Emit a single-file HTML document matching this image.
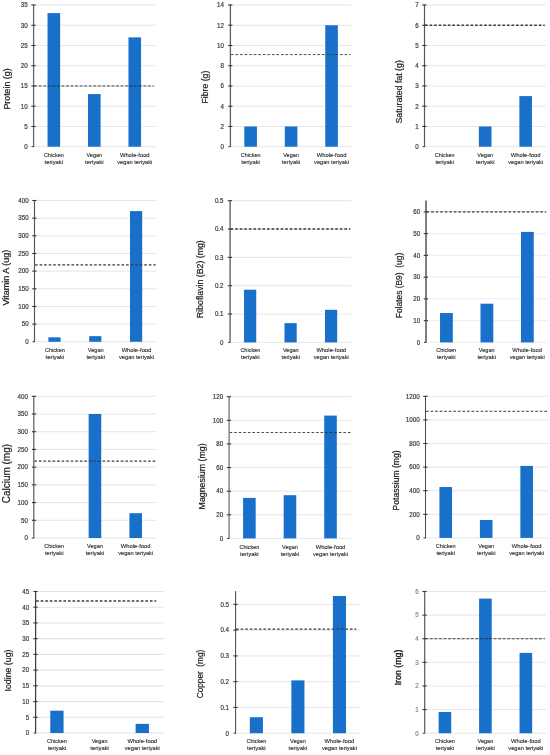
<!DOCTYPE html>
<html><head><meta charset="utf-8"><title>Charts</title>
<style>html,body{margin:0;padding:0;background:#fff}svg{display:block;will-change:transform}text{font-family:"Liberation Sans",sans-serif}</style></head><body>
<svg width="550" height="755" viewBox="0 0 550 755">
<rect width="550" height="755" fill="#fff"/>
<g>
<line x1="33.60" x2="155.50" y1="146.70" y2="146.70" stroke="#dedede" stroke-width="0.75"/>
<line x1="33.60" x2="155.50" y1="126.46" y2="126.46" stroke="#dedede" stroke-width="0.75"/>
<line x1="33.60" x2="155.50" y1="106.21" y2="106.21" stroke="#dedede" stroke-width="0.75"/>
<line x1="33.60" x2="155.50" y1="85.97" y2="85.97" stroke="#dedede" stroke-width="0.75"/>
<line x1="33.60" x2="155.50" y1="65.73" y2="65.73" stroke="#dedede" stroke-width="0.75"/>
<line x1="33.60" x2="155.50" y1="45.49" y2="45.49" stroke="#dedede" stroke-width="0.75"/>
<line x1="33.60" x2="155.50" y1="25.24" y2="25.24" stroke="#dedede" stroke-width="0.75"/>
<line x1="33.60" x2="155.50" y1="5.00" y2="5.00" stroke="#dedede" stroke-width="0.75"/>
<rect x="47.53" y="13.10" width="12.60" height="133.60" fill="#1970ca"/>
<rect x="88.00" y="94.07" width="12.60" height="52.63" fill="#1970ca"/>
<rect x="128.47" y="37.39" width="12.60" height="109.31" fill="#1970ca"/>
<line x1="34.10" x2="153.80" y1="85.97" y2="85.97" stroke="#262626" stroke-width="0.85" stroke-dasharray="3 1.55"/>
<line x1="33.60" x2="33.60" y1="4.60" y2="147.10" stroke="#666" stroke-width="1.3"/>
<line x1="31.60" x2="33.60" y1="146.70" y2="146.70" stroke="#3a3a3a" stroke-width="1.0"/>
<text transform="translate(27.70,149.00) scale(1,1.12)" stroke="#3a3a3a" stroke-width="0.18" font-size="6.2" text-anchor="end" fill="#3a3a3a">0</text>
<line x1="31.30" x2="35.60" y1="126.46" y2="126.46" stroke="#383838" stroke-width="1.1"/>
<text transform="translate(27.70,128.76) scale(1,1.12)" stroke="#3a3a3a" stroke-width="0.18" font-size="6.2" text-anchor="end" fill="#3a3a3a">5</text>
<line x1="31.30" x2="35.60" y1="106.21" y2="106.21" stroke="#383838" stroke-width="1.1"/>
<text transform="translate(27.70,108.51) scale(1,1.12)" stroke="#3a3a3a" stroke-width="0.18" font-size="6.2" text-anchor="end" fill="#3a3a3a">10</text>
<line x1="31.30" x2="35.60" y1="85.97" y2="85.97" stroke="#383838" stroke-width="1.1"/>
<text transform="translate(27.70,88.27) scale(1,1.12)" stroke="#3a3a3a" stroke-width="0.18" font-size="6.2" text-anchor="end" fill="#3a3a3a">15</text>
<line x1="31.30" x2="35.60" y1="65.73" y2="65.73" stroke="#383838" stroke-width="1.1"/>
<text transform="translate(27.70,68.03) scale(1,1.12)" stroke="#3a3a3a" stroke-width="0.18" font-size="6.2" text-anchor="end" fill="#3a3a3a">20</text>
<line x1="31.30" x2="35.60" y1="45.49" y2="45.49" stroke="#383838" stroke-width="1.1"/>
<text transform="translate(27.70,47.79) scale(1,1.12)" stroke="#3a3a3a" stroke-width="0.18" font-size="6.2" text-anchor="end" fill="#3a3a3a">25</text>
<line x1="31.30" x2="35.60" y1="25.24" y2="25.24" stroke="#383838" stroke-width="1.1"/>
<text transform="translate(27.70,27.54) scale(1,1.12)" stroke="#3a3a3a" stroke-width="0.18" font-size="6.2" text-anchor="end" fill="#3a3a3a">30</text>
<line x1="31.30" x2="35.60" y1="5.00" y2="5.00" stroke="#383838" stroke-width="1.1"/>
<text transform="translate(27.70,7.30) scale(1,1.12)" stroke="#3a3a3a" stroke-width="0.18" font-size="6.2" text-anchor="end" fill="#3a3a3a">35</text>
<text x="53.83" y="156.65" font-size="6.05" text-anchor="middle" textLength="19.90" lengthAdjust="spacingAndGlyphs" fill="#303030" stroke="#303030" stroke-width="0.14">Chicken</text>
<text x="53.83" y="163.85" font-size="6.05" text-anchor="middle" textLength="18.60" lengthAdjust="spacingAndGlyphs" fill="#303030" stroke="#303030" stroke-width="0.14">teriyaki</text>
<text x="94.30" y="156.65" font-size="6.05" text-anchor="middle" textLength="15.80" lengthAdjust="spacingAndGlyphs" fill="#303030" stroke="#303030" stroke-width="0.14">Vegan</text>
<text x="94.30" y="163.85" font-size="6.05" text-anchor="middle" textLength="18.60" lengthAdjust="spacingAndGlyphs" fill="#303030" stroke="#303030" stroke-width="0.14">teriyaki</text>
<text x="134.77" y="156.65" font-size="6.05" text-anchor="middle" textLength="29.70" lengthAdjust="spacingAndGlyphs" fill="#303030" stroke="#303030" stroke-width="0.14">Whole-food</text>
<text x="134.77" y="163.85" font-size="6.05" text-anchor="middle" textLength="35.00" lengthAdjust="spacingAndGlyphs" fill="#303030" stroke="#303030" stroke-width="0.14">vegan teriyaki</text>
<text transform="translate(9.80,89.00) rotate(-90)" font-size="8.6" text-anchor="middle" textLength="41.2" lengthAdjust="spacingAndGlyphs" fill="#1a1a1a" stroke="#1a1a1a" stroke-width="0.2" xml:space="preserve">Protein (g)</text>
</g>
<g>
<line x1="230.40" x2="351.80" y1="146.70" y2="146.70" stroke="#dedede" stroke-width="0.75"/>
<line x1="230.40" x2="351.80" y1="126.46" y2="126.46" stroke="#dedede" stroke-width="0.75"/>
<line x1="230.40" x2="351.80" y1="106.21" y2="106.21" stroke="#dedede" stroke-width="0.75"/>
<line x1="230.40" x2="351.80" y1="85.97" y2="85.97" stroke="#dedede" stroke-width="0.75"/>
<line x1="230.40" x2="351.80" y1="65.73" y2="65.73" stroke="#dedede" stroke-width="0.75"/>
<line x1="230.40" x2="351.80" y1="45.49" y2="45.49" stroke="#dedede" stroke-width="0.75"/>
<line x1="230.40" x2="351.80" y1="25.24" y2="25.24" stroke="#dedede" stroke-width="0.75"/>
<line x1="230.40" x2="351.80" y1="5.00" y2="5.00" stroke="#dedede" stroke-width="0.75"/>
<rect x="244.33" y="126.46" width="12.60" height="20.24" fill="#1970ca"/>
<rect x="284.80" y="126.46" width="12.60" height="20.24" fill="#1970ca"/>
<rect x="325.27" y="25.24" width="12.60" height="121.46" fill="#1970ca"/>
<line x1="230.90" x2="350.60" y1="54.59" y2="54.59" stroke="#3c3c3c" stroke-width="0.9" stroke-dasharray="2.7 1.85"/>
<line x1="230.40" x2="230.40" y1="4.60" y2="147.10" stroke="#606060" stroke-width="1.3"/>
<line x1="228.40" x2="230.40" y1="146.70" y2="146.70" stroke="#3a3a3a" stroke-width="1.0"/>
<text transform="translate(224.00,149.00) scale(1,1.12)" stroke="#3a3a3a" stroke-width="0.18" font-size="6.2" text-anchor="end" fill="#3a3a3a">0</text>
<line x1="228.10" x2="232.40" y1="126.46" y2="126.46" stroke="#383838" stroke-width="1.1"/>
<text transform="translate(224.00,128.76) scale(1,1.12)" stroke="#3a3a3a" stroke-width="0.18" font-size="6.2" text-anchor="end" fill="#3a3a3a">2</text>
<line x1="228.10" x2="232.40" y1="106.21" y2="106.21" stroke="#383838" stroke-width="1.1"/>
<text transform="translate(224.00,108.51) scale(1,1.12)" stroke="#3a3a3a" stroke-width="0.18" font-size="6.2" text-anchor="end" fill="#3a3a3a">4</text>
<line x1="228.10" x2="232.40" y1="85.97" y2="85.97" stroke="#383838" stroke-width="1.1"/>
<text transform="translate(224.00,88.27) scale(1,1.12)" stroke="#3a3a3a" stroke-width="0.18" font-size="6.2" text-anchor="end" fill="#3a3a3a">6</text>
<line x1="228.10" x2="232.40" y1="65.73" y2="65.73" stroke="#383838" stroke-width="1.1"/>
<text transform="translate(224.00,68.03) scale(1,1.12)" stroke="#3a3a3a" stroke-width="0.18" font-size="6.2" text-anchor="end" fill="#3a3a3a">8</text>
<line x1="228.10" x2="232.40" y1="45.49" y2="45.49" stroke="#383838" stroke-width="1.1"/>
<text transform="translate(224.00,47.79) scale(1,1.12)" stroke="#3a3a3a" stroke-width="0.18" font-size="6.2" text-anchor="end" fill="#3a3a3a">10</text>
<line x1="228.10" x2="232.40" y1="25.24" y2="25.24" stroke="#383838" stroke-width="1.1"/>
<text transform="translate(224.00,27.54) scale(1,1.12)" stroke="#3a3a3a" stroke-width="0.18" font-size="6.2" text-anchor="end" fill="#3a3a3a">12</text>
<line x1="228.10" x2="232.40" y1="5.00" y2="5.00" stroke="#383838" stroke-width="1.1"/>
<text transform="translate(224.00,7.30) scale(1,1.12)" stroke="#3a3a3a" stroke-width="0.18" font-size="6.2" text-anchor="end" fill="#3a3a3a">14</text>
<text x="250.63" y="156.65" font-size="6.05" text-anchor="middle" textLength="19.90" lengthAdjust="spacingAndGlyphs" fill="#303030" stroke="#303030" stroke-width="0.14">Chicken</text>
<text x="250.63" y="163.85" font-size="6.05" text-anchor="middle" textLength="18.60" lengthAdjust="spacingAndGlyphs" fill="#303030" stroke="#303030" stroke-width="0.14">teriyaki</text>
<text x="291.10" y="156.65" font-size="6.05" text-anchor="middle" textLength="15.80" lengthAdjust="spacingAndGlyphs" fill="#303030" stroke="#303030" stroke-width="0.14">Vegan</text>
<text x="291.10" y="163.85" font-size="6.05" text-anchor="middle" textLength="18.60" lengthAdjust="spacingAndGlyphs" fill="#303030" stroke="#303030" stroke-width="0.14">teriyaki</text>
<text x="331.57" y="156.65" font-size="6.05" text-anchor="middle" textLength="29.70" lengthAdjust="spacingAndGlyphs" fill="#303030" stroke="#303030" stroke-width="0.14">Whole-food</text>
<text x="331.57" y="163.85" font-size="6.05" text-anchor="middle" textLength="35.00" lengthAdjust="spacingAndGlyphs" fill="#303030" stroke="#303030" stroke-width="0.14">vegan teriyaki</text>
<text transform="translate(207.50,87.10) rotate(-90)" font-size="8.6" text-anchor="middle" textLength="33.0" lengthAdjust="spacingAndGlyphs" fill="#1a1a1a" stroke="#1a1a1a" stroke-width="0.2" xml:space="preserve">Fibre (g)</text>
</g>
<g>
<line x1="424.50" x2="545.90" y1="146.70" y2="146.70" stroke="#dedede" stroke-width="0.75"/>
<line x1="424.50" x2="545.90" y1="126.46" y2="126.46" stroke="#dedede" stroke-width="0.75"/>
<line x1="424.50" x2="545.90" y1="106.21" y2="106.21" stroke="#dedede" stroke-width="0.75"/>
<line x1="424.50" x2="545.90" y1="85.97" y2="85.97" stroke="#dedede" stroke-width="0.75"/>
<line x1="424.50" x2="545.90" y1="65.73" y2="65.73" stroke="#dedede" stroke-width="0.75"/>
<line x1="424.50" x2="545.90" y1="45.49" y2="45.49" stroke="#dedede" stroke-width="0.75"/>
<line x1="424.50" x2="545.90" y1="25.24" y2="25.24" stroke="#dedede" stroke-width="0.75"/>
<line x1="424.50" x2="545.90" y1="5.00" y2="5.00" stroke="#dedede" stroke-width="0.75"/>
<rect x="478.90" y="126.46" width="12.60" height="20.24" fill="#1970ca"/>
<rect x="519.37" y="96.09" width="12.60" height="50.61" fill="#1970ca"/>
<line x1="425.00" x2="544.70" y1="25.24" y2="25.24" stroke="#3c3c3c" stroke-width="1.4" stroke-dasharray="2.7 1.85"/>
<line x1="424.50" x2="424.50" y1="4.60" y2="147.10" stroke="#595959" stroke-width="1.2"/>
<line x1="422.50" x2="424.50" y1="146.70" y2="146.70" stroke="#3a3a3a" stroke-width="1.0"/>
<text transform="translate(418.60,149.00) scale(1,1.12)" stroke="#3a3a3a" stroke-width="0.18" font-size="6.2" text-anchor="end" fill="#3a3a3a">0</text>
<line x1="422.20" x2="426.50" y1="126.46" y2="126.46" stroke="#383838" stroke-width="1.1"/>
<text transform="translate(418.60,128.76) scale(1,1.12)" stroke="#3a3a3a" stroke-width="0.18" font-size="6.2" text-anchor="end" fill="#3a3a3a">1</text>
<line x1="422.20" x2="426.50" y1="106.21" y2="106.21" stroke="#383838" stroke-width="1.1"/>
<text transform="translate(418.60,108.51) scale(1,1.12)" stroke="#3a3a3a" stroke-width="0.18" font-size="6.2" text-anchor="end" fill="#3a3a3a">2</text>
<line x1="422.20" x2="426.50" y1="85.97" y2="85.97" stroke="#383838" stroke-width="1.1"/>
<text transform="translate(418.60,88.27) scale(1,1.12)" stroke="#3a3a3a" stroke-width="0.18" font-size="6.2" text-anchor="end" fill="#3a3a3a">3</text>
<line x1="422.20" x2="426.50" y1="65.73" y2="65.73" stroke="#383838" stroke-width="1.1"/>
<text transform="translate(418.60,68.03) scale(1,1.12)" stroke="#3a3a3a" stroke-width="0.18" font-size="6.2" text-anchor="end" fill="#3a3a3a">4</text>
<line x1="422.20" x2="426.50" y1="45.49" y2="45.49" stroke="#383838" stroke-width="1.1"/>
<text transform="translate(418.60,47.79) scale(1,1.12)" stroke="#3a3a3a" stroke-width="0.18" font-size="6.2" text-anchor="end" fill="#3a3a3a">5</text>
<line x1="422.20" x2="426.50" y1="25.24" y2="25.24" stroke="#383838" stroke-width="1.1"/>
<text transform="translate(418.60,27.54) scale(1,1.12)" stroke="#3a3a3a" stroke-width="0.18" font-size="6.2" text-anchor="end" fill="#3a3a3a">6</text>
<line x1="422.20" x2="426.50" y1="5.00" y2="5.00" stroke="#383838" stroke-width="1.1"/>
<text transform="translate(418.60,7.30) scale(1,1.12)" stroke="#3a3a3a" stroke-width="0.18" font-size="6.2" text-anchor="end" fill="#3a3a3a">7</text>
<text x="444.73" y="156.65" font-size="6.05" text-anchor="middle" textLength="19.90" lengthAdjust="spacingAndGlyphs" fill="#303030" stroke="#303030" stroke-width="0.14">Chicken</text>
<text x="444.73" y="163.85" font-size="6.05" text-anchor="middle" textLength="18.60" lengthAdjust="spacingAndGlyphs" fill="#303030" stroke="#303030" stroke-width="0.14">teriyaki</text>
<text x="485.20" y="156.65" font-size="6.05" text-anchor="middle" textLength="15.80" lengthAdjust="spacingAndGlyphs" fill="#303030" stroke="#303030" stroke-width="0.14">Vegan</text>
<text x="485.20" y="163.85" font-size="6.05" text-anchor="middle" textLength="18.60" lengthAdjust="spacingAndGlyphs" fill="#303030" stroke="#303030" stroke-width="0.14">teriyaki</text>
<text x="525.67" y="156.65" font-size="6.05" text-anchor="middle" textLength="29.70" lengthAdjust="spacingAndGlyphs" fill="#303030" stroke="#303030" stroke-width="0.14">Whole-food</text>
<text x="525.67" y="163.85" font-size="6.05" text-anchor="middle" textLength="35.00" lengthAdjust="spacingAndGlyphs" fill="#303030" stroke="#303030" stroke-width="0.14">vegan teriyaki</text>
<text transform="translate(402.00,91.90) rotate(-90)" font-size="8.6" text-anchor="middle" textLength="63.4" lengthAdjust="spacingAndGlyphs" fill="#1a1a1a" stroke="#1a1a1a" stroke-width="0.2" xml:space="preserve">Saturated fat (g)</text>
</g>
<g>
<line x1="34.50" x2="156.90" y1="341.80" y2="341.80" stroke="#dedede" stroke-width="0.75"/>
<line x1="34.50" x2="156.90" y1="324.14" y2="324.14" stroke="#dedede" stroke-width="0.75"/>
<line x1="34.50" x2="156.90" y1="306.48" y2="306.48" stroke="#dedede" stroke-width="0.75"/>
<line x1="34.50" x2="156.90" y1="288.81" y2="288.81" stroke="#dedede" stroke-width="0.75"/>
<line x1="34.50" x2="156.90" y1="271.15" y2="271.15" stroke="#dedede" stroke-width="0.75"/>
<line x1="34.50" x2="156.90" y1="253.49" y2="253.49" stroke="#dedede" stroke-width="0.75"/>
<line x1="34.50" x2="156.90" y1="235.82" y2="235.82" stroke="#dedede" stroke-width="0.75"/>
<line x1="34.50" x2="156.90" y1="218.16" y2="218.16" stroke="#dedede" stroke-width="0.75"/>
<line x1="34.50" x2="156.90" y1="200.50" y2="200.50" stroke="#dedede" stroke-width="0.75"/>
<rect x="48.40" y="337.31" width="12.20" height="4.49" fill="#1970ca"/>
<rect x="89.20" y="336.15" width="12.20" height="5.65" fill="#1970ca"/>
<rect x="130.00" y="211.10" width="12.20" height="130.70" fill="#1970ca"/>
<line x1="35.00" x2="155.70" y1="264.93" y2="264.93" stroke="#3c3c3c" stroke-width="1.3" stroke-dasharray="2.7 1.85"/>
<line x1="34.50" x2="34.50" y1="200.10" y2="342.20" stroke="#595959" stroke-width="1.2"/>
<line x1="32.50" x2="34.50" y1="341.80" y2="341.80" stroke="#3a3a3a" stroke-width="1.0"/>
<text transform="translate(28.60,344.10) scale(1,1.12)" stroke="#3a3a3a" stroke-width="0.18" font-size="6.2" text-anchor="end" fill="#3a3a3a">0</text>
<line x1="32.20" x2="36.50" y1="324.14" y2="324.14" stroke="#383838" stroke-width="1.1"/>
<text transform="translate(28.60,326.44) scale(1,1.12)" stroke="#3a3a3a" stroke-width="0.18" font-size="6.2" text-anchor="end" fill="#3a3a3a">50</text>
<line x1="32.20" x2="36.50" y1="306.48" y2="306.48" stroke="#383838" stroke-width="1.1"/>
<text transform="translate(28.60,308.78) scale(1,1.12)" stroke="#3a3a3a" stroke-width="0.18" font-size="6.2" text-anchor="end" fill="#3a3a3a">100</text>
<line x1="32.20" x2="36.50" y1="288.81" y2="288.81" stroke="#383838" stroke-width="1.1"/>
<text transform="translate(28.60,291.11) scale(1,1.12)" stroke="#3a3a3a" stroke-width="0.18" font-size="6.2" text-anchor="end" fill="#3a3a3a">150</text>
<line x1="32.20" x2="36.50" y1="271.15" y2="271.15" stroke="#383838" stroke-width="1.1"/>
<text transform="translate(28.60,273.45) scale(1,1.12)" stroke="#3a3a3a" stroke-width="0.18" font-size="6.2" text-anchor="end" fill="#3a3a3a">200</text>
<line x1="32.20" x2="36.50" y1="253.49" y2="253.49" stroke="#383838" stroke-width="1.1"/>
<text transform="translate(28.60,255.79) scale(1,1.12)" stroke="#3a3a3a" stroke-width="0.18" font-size="6.2" text-anchor="end" fill="#3a3a3a">250</text>
<line x1="32.20" x2="36.50" y1="235.82" y2="235.82" stroke="#383838" stroke-width="1.1"/>
<text transform="translate(28.60,238.12) scale(1,1.12)" stroke="#3a3a3a" stroke-width="0.18" font-size="6.2" text-anchor="end" fill="#3a3a3a">300</text>
<line x1="32.20" x2="36.50" y1="218.16" y2="218.16" stroke="#383838" stroke-width="1.1"/>
<text transform="translate(28.60,220.46) scale(1,1.12)" stroke="#3a3a3a" stroke-width="0.18" font-size="6.2" text-anchor="end" fill="#3a3a3a">350</text>
<line x1="32.20" x2="36.50" y1="200.50" y2="200.50" stroke="#383838" stroke-width="1.1"/>
<text transform="translate(28.60,202.80) scale(1,1.12)" stroke="#3a3a3a" stroke-width="0.18" font-size="6.2" text-anchor="end" fill="#3a3a3a">400</text>
<text x="54.90" y="352.15" font-size="6.05" text-anchor="middle" textLength="19.90" lengthAdjust="spacingAndGlyphs" fill="#303030" stroke="#303030" stroke-width="0.14">Chicken</text>
<text x="54.90" y="359.35" font-size="6.05" text-anchor="middle" textLength="18.60" lengthAdjust="spacingAndGlyphs" fill="#303030" stroke="#303030" stroke-width="0.14">teriyaki</text>
<text x="95.70" y="352.15" font-size="6.05" text-anchor="middle" textLength="15.80" lengthAdjust="spacingAndGlyphs" fill="#303030" stroke="#303030" stroke-width="0.14">Vegan</text>
<text x="95.70" y="359.35" font-size="6.05" text-anchor="middle" textLength="18.60" lengthAdjust="spacingAndGlyphs" fill="#303030" stroke="#303030" stroke-width="0.14">teriyaki</text>
<text x="136.50" y="352.15" font-size="6.05" text-anchor="middle" textLength="29.70" lengthAdjust="spacingAndGlyphs" fill="#303030" stroke="#303030" stroke-width="0.14">Whole-food</text>
<text x="136.50" y="359.35" font-size="6.05" text-anchor="middle" textLength="35.00" lengthAdjust="spacingAndGlyphs" fill="#303030" stroke="#303030" stroke-width="0.14">vegan teriyaki</text>
<text transform="translate(8.60,277.60) rotate(-90)" font-size="8.6" text-anchor="middle" textLength="55.8" lengthAdjust="spacingAndGlyphs" fill="#1a1a1a" stroke="#1a1a1a" stroke-width="0.2" xml:space="preserve">Vitamin A (ug)</text>
</g>
<g>
<line x1="230.10" x2="351.50" y1="342.40" y2="342.40" stroke="#dedede" stroke-width="0.75"/>
<line x1="230.10" x2="351.50" y1="314.06" y2="314.06" stroke="#dedede" stroke-width="0.75"/>
<line x1="230.10" x2="351.50" y1="285.72" y2="285.72" stroke="#dedede" stroke-width="0.75"/>
<line x1="230.10" x2="351.50" y1="257.38" y2="257.38" stroke="#dedede" stroke-width="0.75"/>
<line x1="230.10" x2="351.50" y1="229.04" y2="229.04" stroke="#dedede" stroke-width="0.75"/>
<line x1="230.10" x2="351.50" y1="200.70" y2="200.70" stroke="#dedede" stroke-width="0.75"/>
<rect x="244.03" y="289.69" width="12.20" height="52.71" fill="#1970ca"/>
<rect x="284.50" y="323.13" width="12.20" height="19.27" fill="#1970ca"/>
<rect x="324.97" y="309.81" width="12.20" height="32.59" fill="#1970ca"/>
<line x1="230.60" x2="350.30" y1="229.04" y2="229.04" stroke="#3c3c3c" stroke-width="1.4" stroke-dasharray="2.7 1.85"/>
<line x1="230.10" x2="230.10" y1="200.30" y2="342.80" stroke="#707070" stroke-width="1.5"/>
<line x1="228.10" x2="230.10" y1="342.40" y2="342.40" stroke="#3a3a3a" stroke-width="1.0"/>
<text transform="translate(223.50,344.70) scale(1,1.12)" stroke="#3a3a3a" stroke-width="0.18" font-size="6.2" text-anchor="end" fill="#3a3a3a">0</text>
<line x1="227.80" x2="232.10" y1="314.06" y2="314.06" stroke="#383838" stroke-width="1.1"/>
<text transform="translate(223.50,316.36) scale(1,1.12)" stroke="#3a3a3a" stroke-width="0.18" font-size="6.2" text-anchor="end" fill="#3a3a3a">0.1</text>
<line x1="227.80" x2="232.10" y1="285.72" y2="285.72" stroke="#383838" stroke-width="1.1"/>
<text transform="translate(223.50,288.02) scale(1,1.12)" stroke="#3a3a3a" stroke-width="0.18" font-size="6.2" text-anchor="end" fill="#3a3a3a">0.2</text>
<line x1="227.80" x2="232.10" y1="257.38" y2="257.38" stroke="#383838" stroke-width="1.1"/>
<text transform="translate(223.50,259.68) scale(1,1.12)" stroke="#3a3a3a" stroke-width="0.18" font-size="6.2" text-anchor="end" fill="#3a3a3a">0.3</text>
<line x1="227.80" x2="232.10" y1="229.04" y2="229.04" stroke="#383838" stroke-width="1.1"/>
<text transform="translate(223.50,231.34) scale(1,1.12)" stroke="#3a3a3a" stroke-width="0.18" font-size="6.2" text-anchor="end" fill="#3a3a3a">0.4</text>
<line x1="227.80" x2="232.10" y1="200.70" y2="200.70" stroke="#383838" stroke-width="1.1"/>
<text transform="translate(223.50,203.00) scale(1,1.12)" stroke="#3a3a3a" stroke-width="0.18" font-size="6.2" text-anchor="end" fill="#3a3a3a">0.5</text>
<text x="250.33" y="351.95" font-size="6.05" text-anchor="middle" textLength="19.90" lengthAdjust="spacingAndGlyphs" fill="#303030" stroke="#303030" stroke-width="0.14">Chicken</text>
<text x="250.33" y="359.15" font-size="6.05" text-anchor="middle" textLength="18.60" lengthAdjust="spacingAndGlyphs" fill="#303030" stroke="#303030" stroke-width="0.14">teriyaki</text>
<text x="290.80" y="351.95" font-size="6.05" text-anchor="middle" textLength="15.80" lengthAdjust="spacingAndGlyphs" fill="#303030" stroke="#303030" stroke-width="0.14">Vegan</text>
<text x="290.80" y="359.15" font-size="6.05" text-anchor="middle" textLength="18.60" lengthAdjust="spacingAndGlyphs" fill="#303030" stroke="#303030" stroke-width="0.14">teriyaki</text>
<text x="331.27" y="351.95" font-size="6.05" text-anchor="middle" textLength="29.70" lengthAdjust="spacingAndGlyphs" fill="#303030" stroke="#303030" stroke-width="0.14">Whole-food</text>
<text x="331.27" y="359.15" font-size="6.05" text-anchor="middle" textLength="35.00" lengthAdjust="spacingAndGlyphs" fill="#303030" stroke="#303030" stroke-width="0.14">vegan teriyaki</text>
<text transform="translate(203.30,279.20) rotate(-90)" font-size="8.3" text-anchor="middle" textLength="77.9" lengthAdjust="spacingAndGlyphs" fill="#1a1a1a" stroke="#1a1a1a" stroke-width="0.2" xml:space="preserve">Riboflavin (B2) (mg)</text>
</g>
<g>
<line x1="426.00" x2="547.40" y1="342.40" y2="342.40" stroke="#dedede" stroke-width="0.6"/>
<line x1="426.00" x2="547.40" y1="320.65" y2="320.65" stroke="#dedede" stroke-width="0.6"/>
<line x1="426.00" x2="547.40" y1="298.89" y2="298.89" stroke="#dedede" stroke-width="0.6"/>
<line x1="426.00" x2="547.40" y1="277.14" y2="277.14" stroke="#dedede" stroke-width="0.6"/>
<line x1="426.00" x2="547.40" y1="255.38" y2="255.38" stroke="#dedede" stroke-width="0.6"/>
<line x1="426.00" x2="547.40" y1="233.63" y2="233.63" stroke="#dedede" stroke-width="0.6"/>
<line x1="426.00" x2="547.40" y1="211.88" y2="211.88" stroke="#dedede" stroke-width="0.6"/>
<rect x="440.03" y="313.03" width="12.80" height="29.37" fill="#1970ca"/>
<rect x="480.50" y="303.68" width="12.80" height="38.72" fill="#1970ca"/>
<rect x="520.97" y="231.89" width="12.80" height="110.51" fill="#1970ca"/>
<line x1="426.50" x2="546.20" y1="211.88" y2="211.88" stroke="#3c3c3c" stroke-width="1.2" stroke-dasharray="2.7 1.85"/>
<line x1="426.00" x2="426.00" y1="200.60" y2="342.80" stroke="#787878" stroke-width="1.9"/>
<line x1="424.00" x2="426.00" y1="342.40" y2="342.40" stroke="#3a3a3a" stroke-width="1.0"/>
<text transform="translate(420.10,344.70) scale(1,1.12)" stroke="#3a3a3a" stroke-width="0.18" font-size="6.2" text-anchor="end" fill="#3a3a3a">0</text>
<line x1="423.70" x2="428.00" y1="320.65" y2="320.65" stroke="#383838" stroke-width="1.1"/>
<text transform="translate(420.10,322.95) scale(1,1.12)" stroke="#3a3a3a" stroke-width="0.18" font-size="6.2" text-anchor="end" fill="#3a3a3a">10</text>
<line x1="423.70" x2="428.00" y1="298.89" y2="298.89" stroke="#383838" stroke-width="1.1"/>
<text transform="translate(420.10,301.19) scale(1,1.12)" stroke="#3a3a3a" stroke-width="0.18" font-size="6.2" text-anchor="end" fill="#3a3a3a">20</text>
<line x1="423.70" x2="428.00" y1="277.14" y2="277.14" stroke="#383838" stroke-width="1.1"/>
<text transform="translate(420.10,279.44) scale(1,1.12)" stroke="#3a3a3a" stroke-width="0.18" font-size="6.2" text-anchor="end" fill="#3a3a3a">30</text>
<line x1="423.70" x2="428.00" y1="255.38" y2="255.38" stroke="#383838" stroke-width="1.1"/>
<text transform="translate(420.10,257.68) scale(1,1.12)" stroke="#3a3a3a" stroke-width="0.18" font-size="6.2" text-anchor="end" fill="#3a3a3a">40</text>
<line x1="423.70" x2="428.00" y1="233.63" y2="233.63" stroke="#383838" stroke-width="1.1"/>
<text transform="translate(420.10,235.93) scale(1,1.12)" stroke="#3a3a3a" stroke-width="0.18" font-size="6.2" text-anchor="end" fill="#3a3a3a">50</text>
<line x1="423.70" x2="428.00" y1="211.88" y2="211.88" stroke="#383838" stroke-width="1.1"/>
<text transform="translate(420.10,214.18) scale(1,1.12)" stroke="#3a3a3a" stroke-width="0.18" font-size="6.2" text-anchor="end" fill="#3a3a3a">60</text>
<text x="446.23" y="352.25" font-size="6.1" text-anchor="middle" textLength="19.90" lengthAdjust="spacingAndGlyphs" fill="#303030" stroke="#303030" stroke-width="0.14">Chicken</text>
<text x="446.23" y="359.45" font-size="6.1" text-anchor="middle" textLength="18.60" lengthAdjust="spacingAndGlyphs" fill="#303030" stroke="#303030" stroke-width="0.14">teriyaki</text>
<text x="486.70" y="352.25" font-size="6.1" text-anchor="middle" textLength="15.80" lengthAdjust="spacingAndGlyphs" fill="#303030" stroke="#303030" stroke-width="0.14">Vegan</text>
<text x="486.70" y="359.45" font-size="6.1" text-anchor="middle" textLength="18.60" lengthAdjust="spacingAndGlyphs" fill="#303030" stroke="#303030" stroke-width="0.14">teriyaki</text>
<text x="527.17" y="352.25" font-size="6.1" text-anchor="middle" textLength="29.70" lengthAdjust="spacingAndGlyphs" fill="#303030" stroke="#303030" stroke-width="0.14">Whole-food</text>
<text x="527.17" y="359.45" font-size="6.1" text-anchor="middle" textLength="35.00" lengthAdjust="spacingAndGlyphs" fill="#303030" stroke="#303030" stroke-width="0.14">vegan teriyaki</text>
<text transform="translate(402.30,285.50) rotate(-90)" font-size="8.6" text-anchor="middle" textLength="65.5" lengthAdjust="spacingAndGlyphs" fill="#1a1a1a" stroke="#1a1a1a" stroke-width="0.2" xml:space="preserve">Folates (B9)  (ug)</text>
</g>
<g>
<line x1="33.80" x2="156.10" y1="538.00" y2="538.00" stroke="#e4e4e4" stroke-width="1.0"/>
<line x1="33.80" x2="156.10" y1="520.29" y2="520.29" stroke="#e4e4e4" stroke-width="1.0"/>
<line x1="33.80" x2="156.10" y1="502.57" y2="502.57" stroke="#e4e4e4" stroke-width="1.0"/>
<line x1="33.80" x2="156.10" y1="484.86" y2="484.86" stroke="#e4e4e4" stroke-width="1.0"/>
<line x1="33.80" x2="156.10" y1="467.15" y2="467.15" stroke="#e4e4e4" stroke-width="1.0"/>
<line x1="33.80" x2="156.10" y1="449.44" y2="449.44" stroke="#e4e4e4" stroke-width="1.0"/>
<line x1="33.80" x2="156.10" y1="431.73" y2="431.73" stroke="#e4e4e4" stroke-width="1.0"/>
<line x1="33.80" x2="156.10" y1="414.01" y2="414.01" stroke="#e4e4e4" stroke-width="1.0"/>
<line x1="33.80" x2="156.10" y1="396.30" y2="396.30" stroke="#e4e4e4" stroke-width="1.0"/>
<rect x="88.65" y="414.01" width="12.60" height="123.99" fill="#1970ca"/>
<rect x="129.42" y="513.20" width="12.60" height="24.80" fill="#1970ca"/>
<line x1="34.30" x2="155.90" y1="461.13" y2="461.13" stroke="#3c3c3c" stroke-width="1.15" stroke-dasharray="2.7 1.85"/>
<line x1="33.80" x2="33.80" y1="395.90" y2="538.40" stroke="#595959" stroke-width="1.2"/>
<line x1="31.80" x2="33.80" y1="538.00" y2="538.00" stroke="#3a3a3a" stroke-width="1.0"/>
<text transform="translate(27.90,540.30) scale(1,1.12)" stroke="#3a3a3a" stroke-width="0.18" font-size="6.2" text-anchor="end" fill="#3a3a3a">0</text>
<line x1="31.90" x2="36.20" y1="520.29" y2="520.29" stroke="#383838" stroke-width="1.1"/>
<text transform="translate(27.90,522.59) scale(1,1.12)" stroke="#3a3a3a" stroke-width="0.18" font-size="6.2" text-anchor="end" fill="#3a3a3a">50</text>
<line x1="31.90" x2="36.20" y1="502.57" y2="502.57" stroke="#383838" stroke-width="1.1"/>
<text transform="translate(27.90,504.88) scale(1,1.12)" stroke="#3a3a3a" stroke-width="0.18" font-size="6.2" text-anchor="end" fill="#3a3a3a">100</text>
<line x1="31.90" x2="36.20" y1="484.86" y2="484.86" stroke="#383838" stroke-width="1.1"/>
<text transform="translate(27.90,487.16) scale(1,1.12)" stroke="#3a3a3a" stroke-width="0.18" font-size="6.2" text-anchor="end" fill="#3a3a3a">150</text>
<line x1="31.90" x2="36.20" y1="467.15" y2="467.15" stroke="#383838" stroke-width="1.1"/>
<text transform="translate(27.90,469.45) scale(1,1.12)" stroke="#3a3a3a" stroke-width="0.18" font-size="6.2" text-anchor="end" fill="#3a3a3a">200</text>
<line x1="31.90" x2="36.20" y1="449.44" y2="449.44" stroke="#383838" stroke-width="1.1"/>
<text transform="translate(27.90,451.74) scale(1,1.12)" stroke="#3a3a3a" stroke-width="0.18" font-size="6.2" text-anchor="end" fill="#3a3a3a">250</text>
<line x1="31.90" x2="36.20" y1="431.73" y2="431.73" stroke="#383838" stroke-width="1.1"/>
<text transform="translate(27.90,434.03) scale(1,1.12)" stroke="#3a3a3a" stroke-width="0.18" font-size="6.2" text-anchor="end" fill="#3a3a3a">300</text>
<line x1="31.90" x2="36.20" y1="414.01" y2="414.01" stroke="#383838" stroke-width="1.1"/>
<text transform="translate(27.90,416.31) scale(1,1.12)" stroke="#3a3a3a" stroke-width="0.18" font-size="6.2" text-anchor="end" fill="#3a3a3a">350</text>
<line x1="31.90" x2="36.20" y1="396.30" y2="396.30" stroke="#383838" stroke-width="1.1"/>
<text transform="translate(27.90,398.60) scale(1,1.12)" stroke="#3a3a3a" stroke-width="0.18" font-size="6.2" text-anchor="end" fill="#3a3a3a">400</text>
<text x="54.18" y="547.85" font-size="6.05" text-anchor="middle" textLength="19.90" lengthAdjust="spacingAndGlyphs" fill="#303030" stroke="#303030" stroke-width="0.14">Chicken</text>
<text x="54.18" y="555.05" font-size="6.05" text-anchor="middle" textLength="18.60" lengthAdjust="spacingAndGlyphs" fill="#303030" stroke="#303030" stroke-width="0.14">teriyaki</text>
<text x="94.95" y="547.85" font-size="6.05" text-anchor="middle" textLength="15.80" lengthAdjust="spacingAndGlyphs" fill="#303030" stroke="#303030" stroke-width="0.14">Vegan</text>
<text x="94.95" y="555.05" font-size="6.05" text-anchor="middle" textLength="18.60" lengthAdjust="spacingAndGlyphs" fill="#303030" stroke="#303030" stroke-width="0.14">teriyaki</text>
<text x="135.72" y="547.85" font-size="6.05" text-anchor="middle" textLength="29.70" lengthAdjust="spacingAndGlyphs" fill="#303030" stroke="#303030" stroke-width="0.14">Whole-food</text>
<text x="135.72" y="555.05" font-size="6.05" text-anchor="middle" textLength="35.00" lengthAdjust="spacingAndGlyphs" fill="#303030" stroke="#303030" stroke-width="0.14">vegan teriyaki</text>
<text transform="translate(9.70,473.60) rotate(-90)" font-size="11" text-anchor="middle" textLength="59.2" lengthAdjust="spacingAndGlyphs" fill="#1a1a1a" stroke="#1a1a1a" stroke-width="0.2" xml:space="preserve">Calcium (mg)</text>
</g>
<g>
<line x1="229.10" x2="350.80" y1="538.40" y2="538.40" stroke="#dedede" stroke-width="0.75"/>
<line x1="229.10" x2="350.80" y1="514.78" y2="514.78" stroke="#dedede" stroke-width="0.75"/>
<line x1="229.10" x2="350.80" y1="491.17" y2="491.17" stroke="#dedede" stroke-width="0.75"/>
<line x1="229.10" x2="350.80" y1="467.55" y2="467.55" stroke="#dedede" stroke-width="0.75"/>
<line x1="229.10" x2="350.80" y1="443.93" y2="443.93" stroke="#dedede" stroke-width="0.75"/>
<line x1="229.10" x2="350.80" y1="420.32" y2="420.32" stroke="#dedede" stroke-width="0.75"/>
<line x1="229.10" x2="350.80" y1="396.70" y2="396.70" stroke="#dedede" stroke-width="0.75"/>
<rect x="243.08" y="497.90" width="12.60" height="40.50" fill="#1970ca"/>
<rect x="283.65" y="495.18" width="12.60" height="43.22" fill="#1970ca"/>
<rect x="324.22" y="415.59" width="12.60" height="122.81" fill="#1970ca"/>
<line x1="229.60" x2="351.40" y1="432.48" y2="432.48" stroke="#2a2a2a" stroke-width="0.85" stroke-dasharray="2.7 1.85"/>
<line x1="229.10" x2="229.10" y1="396.30" y2="538.80" stroke="#4a4a4a" stroke-width="1.0"/>
<line x1="227.10" x2="229.10" y1="538.40" y2="538.40" stroke="#3a3a3a" stroke-width="1.0"/>
<text transform="translate(223.20,540.70) scale(1,1.12)" stroke="#3a3a3a" stroke-width="0.18" font-size="6.2" text-anchor="end" fill="#3a3a3a">0</text>
<line x1="226.80" x2="231.10" y1="514.78" y2="514.78" stroke="#383838" stroke-width="1.1"/>
<text transform="translate(223.20,517.08) scale(1,1.12)" stroke="#3a3a3a" stroke-width="0.18" font-size="6.2" text-anchor="end" fill="#3a3a3a">20</text>
<line x1="226.80" x2="231.10" y1="491.17" y2="491.17" stroke="#383838" stroke-width="1.1"/>
<text transform="translate(223.20,493.47) scale(1,1.12)" stroke="#3a3a3a" stroke-width="0.18" font-size="6.2" text-anchor="end" fill="#3a3a3a">40</text>
<line x1="226.80" x2="231.10" y1="467.55" y2="467.55" stroke="#383838" stroke-width="1.1"/>
<text transform="translate(223.20,469.85) scale(1,1.12)" stroke="#3a3a3a" stroke-width="0.18" font-size="6.2" text-anchor="end" fill="#3a3a3a">60</text>
<line x1="226.80" x2="231.10" y1="443.93" y2="443.93" stroke="#383838" stroke-width="1.1"/>
<text transform="translate(223.20,446.23) scale(1,1.12)" stroke="#3a3a3a" stroke-width="0.18" font-size="6.2" text-anchor="end" fill="#3a3a3a">80</text>
<line x1="226.80" x2="231.10" y1="420.32" y2="420.32" stroke="#383838" stroke-width="1.1"/>
<text transform="translate(223.20,422.62) scale(1,1.12)" stroke="#3a3a3a" stroke-width="0.18" font-size="6.2" text-anchor="end" fill="#3a3a3a">100</text>
<line x1="226.80" x2="231.10" y1="396.70" y2="396.70" stroke="#383838" stroke-width="1.1"/>
<text transform="translate(223.20,399.00) scale(1,1.12)" stroke="#3a3a3a" stroke-width="0.18" font-size="6.2" text-anchor="end" fill="#3a3a3a">120</text>
<text x="249.38" y="548.65" font-size="6.05" text-anchor="middle" textLength="19.90" lengthAdjust="spacingAndGlyphs" fill="#303030" stroke="#303030" stroke-width="0.14">Chicken</text>
<text x="249.38" y="555.85" font-size="6.05" text-anchor="middle" textLength="18.60" lengthAdjust="spacingAndGlyphs" fill="#303030" stroke="#303030" stroke-width="0.14">teriyaki</text>
<text x="289.95" y="548.65" font-size="6.05" text-anchor="middle" textLength="15.80" lengthAdjust="spacingAndGlyphs" fill="#303030" stroke="#303030" stroke-width="0.14">Vegan</text>
<text x="289.95" y="555.85" font-size="6.05" text-anchor="middle" textLength="18.60" lengthAdjust="spacingAndGlyphs" fill="#303030" stroke="#303030" stroke-width="0.14">teriyaki</text>
<text x="330.52" y="548.65" font-size="6.05" text-anchor="middle" textLength="29.70" lengthAdjust="spacingAndGlyphs" fill="#303030" stroke="#303030" stroke-width="0.14">Whole-food</text>
<text x="330.52" y="555.85" font-size="6.05" text-anchor="middle" textLength="35.00" lengthAdjust="spacingAndGlyphs" fill="#303030" stroke="#303030" stroke-width="0.14">vegan teriyaki</text>
<text transform="translate(205.00,476.40) rotate(-90)" font-size="8.8" text-anchor="middle" textLength="66.0" lengthAdjust="spacingAndGlyphs" fill="#1a1a1a" stroke="#1a1a1a" stroke-width="0.2" xml:space="preserve">Magnesium (mg)</text>
</g>
<g>
<line x1="425.50" x2="548.00" y1="537.90" y2="537.90" stroke="#dedede" stroke-width="0.75"/>
<line x1="425.50" x2="548.00" y1="514.30" y2="514.30" stroke="#dedede" stroke-width="0.75"/>
<line x1="425.50" x2="548.00" y1="490.70" y2="490.70" stroke="#dedede" stroke-width="0.75"/>
<line x1="425.50" x2="548.00" y1="467.10" y2="467.10" stroke="#dedede" stroke-width="0.75"/>
<line x1="425.50" x2="548.00" y1="443.50" y2="443.50" stroke="#dedede" stroke-width="0.75"/>
<line x1="425.50" x2="548.00" y1="419.90" y2="419.90" stroke="#dedede" stroke-width="0.75"/>
<line x1="425.50" x2="548.00" y1="396.30" y2="396.30" stroke="#dedede" stroke-width="0.75"/>
<rect x="439.43" y="487.04" width="12.60" height="50.86" fill="#1970ca"/>
<rect x="479.90" y="519.96" width="12.60" height="17.94" fill="#1970ca"/>
<rect x="520.37" y="465.92" width="12.60" height="71.98" fill="#1970ca"/>
<line x1="426.00" x2="547.90" y1="411.29" y2="411.29" stroke="#2e2e2e" stroke-width="0.95" stroke-dasharray="2.7 1.85"/>
<line x1="425.50" x2="425.50" y1="395.90" y2="538.30" stroke="#4a4a4a" stroke-width="1.0"/>
<line x1="423.50" x2="425.50" y1="537.90" y2="537.90" stroke="#3a3a3a" stroke-width="1.0"/>
<text transform="translate(419.60,540.20) scale(1,1.12)" stroke="#3a3a3a" stroke-width="0.18" font-size="6.2" text-anchor="end" fill="#3a3a3a">0</text>
<line x1="423.20" x2="427.50" y1="514.30" y2="514.30" stroke="#383838" stroke-width="1.1"/>
<text transform="translate(419.60,516.60) scale(1,1.12)" stroke="#3a3a3a" stroke-width="0.18" font-size="6.2" text-anchor="end" fill="#3a3a3a">200</text>
<line x1="423.20" x2="427.50" y1="490.70" y2="490.70" stroke="#383838" stroke-width="1.1"/>
<text transform="translate(419.60,493.00) scale(1,1.12)" stroke="#3a3a3a" stroke-width="0.18" font-size="6.2" text-anchor="end" fill="#3a3a3a">400</text>
<line x1="423.20" x2="427.50" y1="467.10" y2="467.10" stroke="#383838" stroke-width="1.1"/>
<text transform="translate(419.60,469.40) scale(1,1.12)" stroke="#3a3a3a" stroke-width="0.18" font-size="6.2" text-anchor="end" fill="#3a3a3a">600</text>
<line x1="423.20" x2="427.50" y1="443.50" y2="443.50" stroke="#383838" stroke-width="1.1"/>
<text transform="translate(419.60,445.80) scale(1,1.12)" stroke="#3a3a3a" stroke-width="0.18" font-size="6.2" text-anchor="end" fill="#3a3a3a">800</text>
<line x1="423.20" x2="427.50" y1="419.90" y2="419.90" stroke="#383838" stroke-width="1.1"/>
<text transform="translate(419.60,422.20) scale(1,1.12)" stroke="#3a3a3a" stroke-width="0.18" font-size="6.2" text-anchor="end" fill="#3a3a3a">1000</text>
<line x1="423.20" x2="427.50" y1="396.30" y2="396.30" stroke="#383838" stroke-width="1.1"/>
<text transform="translate(419.60,398.60) scale(1,1.12)" stroke="#3a3a3a" stroke-width="0.18" font-size="6.2" text-anchor="end" fill="#3a3a3a">1200</text>
<text x="445.73" y="548.05" font-size="6.05" text-anchor="middle" textLength="19.90" lengthAdjust="spacingAndGlyphs" fill="#303030" stroke="#303030" stroke-width="0.14">Chicken</text>
<text x="445.73" y="555.25" font-size="6.05" text-anchor="middle" textLength="18.60" lengthAdjust="spacingAndGlyphs" fill="#303030" stroke="#303030" stroke-width="0.14">teriyaki</text>
<text x="486.20" y="548.05" font-size="6.05" text-anchor="middle" textLength="15.80" lengthAdjust="spacingAndGlyphs" fill="#303030" stroke="#303030" stroke-width="0.14">Vegan</text>
<text x="486.20" y="555.25" font-size="6.05" text-anchor="middle" textLength="18.60" lengthAdjust="spacingAndGlyphs" fill="#303030" stroke="#303030" stroke-width="0.14">teriyaki</text>
<text x="526.67" y="548.05" font-size="6.05" text-anchor="middle" textLength="29.70" lengthAdjust="spacingAndGlyphs" fill="#303030" stroke="#303030" stroke-width="0.14">Whole-food</text>
<text x="526.67" y="555.25" font-size="6.05" text-anchor="middle" textLength="35.00" lengthAdjust="spacingAndGlyphs" fill="#303030" stroke="#303030" stroke-width="0.14">vegan teriyaki</text>
<text transform="translate(398.70,480.40) rotate(-90)" font-size="8.4" text-anchor="middle" textLength="60.1" lengthAdjust="spacingAndGlyphs" fill="#1a1a1a" stroke="#1a1a1a" stroke-width="0.2" xml:space="preserve">Potassium (mg)</text>
</g>
<g>
<line x1="35.60" x2="163.60" y1="733.00" y2="733.00" stroke="#e2e2e2" stroke-width="1.1"/>
<line x1="35.60" x2="163.60" y1="717.28" y2="717.28" stroke="#e2e2e2" stroke-width="1.1"/>
<line x1="35.60" x2="163.60" y1="701.56" y2="701.56" stroke="#e2e2e2" stroke-width="1.1"/>
<line x1="35.60" x2="163.60" y1="685.83" y2="685.83" stroke="#e2e2e2" stroke-width="1.1"/>
<line x1="35.60" x2="163.60" y1="670.11" y2="670.11" stroke="#e2e2e2" stroke-width="1.1"/>
<line x1="35.60" x2="163.60" y1="654.39" y2="654.39" stroke="#e2e2e2" stroke-width="1.1"/>
<line x1="35.60" x2="163.60" y1="638.67" y2="638.67" stroke="#e2e2e2" stroke-width="1.1"/>
<line x1="35.60" x2="163.60" y1="622.94" y2="622.94" stroke="#e2e2e2" stroke-width="1.1"/>
<line x1="35.60" x2="163.60" y1="607.22" y2="607.22" stroke="#e2e2e2" stroke-width="1.1"/>
<line x1="35.60" x2="163.60" y1="591.50" y2="591.50" stroke="#e2e2e2" stroke-width="1.1"/>
<rect x="50.28" y="710.67" width="13.30" height="22.33" fill="#1970ca"/>
<rect x="135.62" y="723.88" width="13.30" height="9.12" fill="#1970ca"/>
<line x1="36.10" x2="156.20" y1="600.93" y2="600.93" stroke="#3c3c3c" stroke-width="1.5" stroke-dasharray="2.7 1.85"/>
<line x1="35.60" x2="35.60" y1="591.10" y2="733.40" stroke="#3a3a3a" stroke-width="1.2"/>
<line x1="33.60" x2="35.60" y1="733.00" y2="733.00" stroke="#3a3a3a" stroke-width="1.0"/>
<text transform="translate(29.10,735.30) scale(1,1.12)" stroke="#3a3a3a" stroke-width="0.18" font-size="6.2" text-anchor="end" fill="#3a3a3a">0</text>
<line x1="33.30" x2="37.60" y1="717.28" y2="717.28" stroke="#383838" stroke-width="1.1"/>
<text transform="translate(29.10,719.58) scale(1,1.12)" stroke="#3a3a3a" stroke-width="0.18" font-size="6.2" text-anchor="end" fill="#3a3a3a">5</text>
<line x1="33.30" x2="37.60" y1="701.56" y2="701.56" stroke="#383838" stroke-width="1.1"/>
<text transform="translate(29.10,703.86) scale(1,1.12)" stroke="#3a3a3a" stroke-width="0.18" font-size="6.2" text-anchor="end" fill="#3a3a3a">10</text>
<line x1="33.30" x2="37.60" y1="685.83" y2="685.83" stroke="#383838" stroke-width="1.1"/>
<text transform="translate(29.10,688.13) scale(1,1.12)" stroke="#3a3a3a" stroke-width="0.18" font-size="6.2" text-anchor="end" fill="#3a3a3a">15</text>
<line x1="33.30" x2="37.60" y1="670.11" y2="670.11" stroke="#383838" stroke-width="1.1"/>
<text transform="translate(29.10,672.41) scale(1,1.12)" stroke="#3a3a3a" stroke-width="0.18" font-size="6.2" text-anchor="end" fill="#3a3a3a">20</text>
<line x1="33.30" x2="37.60" y1="654.39" y2="654.39" stroke="#383838" stroke-width="1.1"/>
<text transform="translate(29.10,656.69) scale(1,1.12)" stroke="#3a3a3a" stroke-width="0.18" font-size="6.2" text-anchor="end" fill="#3a3a3a">25</text>
<line x1="33.30" x2="37.60" y1="638.67" y2="638.67" stroke="#383838" stroke-width="1.1"/>
<text transform="translate(29.10,640.97) scale(1,1.12)" stroke="#3a3a3a" stroke-width="0.18" font-size="6.2" text-anchor="end" fill="#3a3a3a">30</text>
<line x1="33.30" x2="37.60" y1="622.94" y2="622.94" stroke="#383838" stroke-width="1.1"/>
<text transform="translate(29.10,625.24) scale(1,1.12)" stroke="#3a3a3a" stroke-width="0.18" font-size="6.2" text-anchor="end" fill="#3a3a3a">35</text>
<line x1="33.30" x2="37.60" y1="607.22" y2="607.22" stroke="#383838" stroke-width="1.1"/>
<text transform="translate(29.10,609.52) scale(1,1.12)" stroke="#3a3a3a" stroke-width="0.18" font-size="6.2" text-anchor="end" fill="#3a3a3a">40</text>
<line x1="33.30" x2="37.60" y1="591.50" y2="591.50" stroke="#383838" stroke-width="1.1"/>
<text transform="translate(29.10,593.80) scale(1,1.12)" stroke="#3a3a3a" stroke-width="0.18" font-size="6.2" text-anchor="end" fill="#3a3a3a">45</text>
<text x="56.93" y="743.15" font-size="6.05" text-anchor="middle" textLength="19.90" lengthAdjust="spacingAndGlyphs" fill="#303030" stroke="#303030" stroke-width="0.14">Chicken</text>
<text x="56.93" y="750.35" font-size="6.05" text-anchor="middle" textLength="18.60" lengthAdjust="spacingAndGlyphs" fill="#303030" stroke="#303030" stroke-width="0.14">teriyaki</text>
<text x="99.60" y="743.15" font-size="6.05" text-anchor="middle" textLength="15.80" lengthAdjust="spacingAndGlyphs" fill="#303030" stroke="#303030" stroke-width="0.14">Vegan</text>
<text x="99.60" y="750.35" font-size="6.05" text-anchor="middle" textLength="18.60" lengthAdjust="spacingAndGlyphs" fill="#303030" stroke="#303030" stroke-width="0.14">teriyaki</text>
<text x="142.27" y="743.15" font-size="6.05" text-anchor="middle" textLength="29.70" lengthAdjust="spacingAndGlyphs" fill="#303030" stroke="#303030" stroke-width="0.14">Whole-food</text>
<text x="142.27" y="750.35" font-size="6.05" text-anchor="middle" textLength="35.00" lengthAdjust="spacingAndGlyphs" fill="#303030" stroke="#303030" stroke-width="0.14">vegan teriyaki</text>
<text transform="translate(11.20,670.50) rotate(-90)" font-size="8.9" text-anchor="middle" textLength="41.9" lengthAdjust="spacingAndGlyphs" fill="#1a1a1a" stroke="#1a1a1a" stroke-width="0.2" xml:space="preserve">Iodine (ug)</text>
</g>
<g>
<line x1="235.60" x2="360.20" y1="733.20" y2="733.20" stroke="#dedede" stroke-width="0.75"/>
<line x1="235.60" x2="360.20" y1="707.44" y2="707.44" stroke="#dedede" stroke-width="0.75"/>
<line x1="235.60" x2="360.20" y1="681.67" y2="681.67" stroke="#dedede" stroke-width="0.75"/>
<line x1="235.60" x2="360.20" y1="655.91" y2="655.91" stroke="#dedede" stroke-width="0.75"/>
<line x1="235.60" x2="360.20" y1="630.15" y2="630.15" stroke="#dedede" stroke-width="0.75"/>
<line x1="235.60" x2="360.20" y1="604.38" y2="604.38" stroke="#dedede" stroke-width="0.75"/>
<rect x="249.82" y="717.23" width="13.10" height="15.97" fill="#1970ca"/>
<rect x="291.35" y="680.38" width="13.10" height="52.82" fill="#1970ca"/>
<rect x="332.88" y="595.98" width="13.10" height="137.22" fill="#1970ca"/>
<line x1="236.10" x2="356.30" y1="629.11" y2="629.11" stroke="#3c3c3c" stroke-width="1.3" stroke-dasharray="2.7 1.85"/>
<line x1="235.60" x2="235.60" y1="591.10" y2="733.60" stroke="#3a3a3a" stroke-width="0.95"/>
<line x1="233.60" x2="235.60" y1="733.20" y2="733.20" stroke="#3a3a3a" stroke-width="1.0"/>
<text transform="translate(229.00,735.50) scale(1,1.12)" stroke="#3a3a3a" stroke-width="0.18" font-size="6.2" text-anchor="end" fill="#3a3a3a">0</text>
<line x1="233.30" x2="237.60" y1="707.44" y2="707.44" stroke="#383838" stroke-width="1.1"/>
<text transform="translate(229.00,709.74) scale(1,1.12)" stroke="#3a3a3a" stroke-width="0.18" font-size="6.2" text-anchor="end" fill="#3a3a3a">0.1</text>
<line x1="233.30" x2="237.60" y1="681.67" y2="681.67" stroke="#383838" stroke-width="1.1"/>
<text transform="translate(229.00,683.97) scale(1,1.12)" stroke="#3a3a3a" stroke-width="0.18" font-size="6.2" text-anchor="end" fill="#3a3a3a">0.2</text>
<line x1="233.30" x2="237.60" y1="655.91" y2="655.91" stroke="#383838" stroke-width="1.1"/>
<text transform="translate(229.00,658.21) scale(1,1.12)" stroke="#3a3a3a" stroke-width="0.18" font-size="6.2" text-anchor="end" fill="#3a3a3a">0.3</text>
<line x1="233.30" x2="237.60" y1="630.15" y2="630.15" stroke="#383838" stroke-width="1.1"/>
<text transform="translate(229.00,632.45) scale(1,1.12)" stroke="#3a3a3a" stroke-width="0.18" font-size="6.2" text-anchor="end" fill="#3a3a3a">0.4</text>
<line x1="233.30" x2="237.60" y1="604.38" y2="604.38" stroke="#383838" stroke-width="1.1"/>
<text transform="translate(229.00,606.68) scale(1,1.12)" stroke="#3a3a3a" stroke-width="0.18" font-size="6.2" text-anchor="end" fill="#3a3a3a">0.5</text>
<text x="256.37" y="742.75" font-size="6.05" text-anchor="middle" textLength="19.90" lengthAdjust="spacingAndGlyphs" fill="#303030" stroke="#303030" stroke-width="0.14">Chicken</text>
<text x="256.37" y="749.95" font-size="6.05" text-anchor="middle" textLength="18.60" lengthAdjust="spacingAndGlyphs" fill="#303030" stroke="#303030" stroke-width="0.14">teriyaki</text>
<text x="297.90" y="742.75" font-size="6.05" text-anchor="middle" textLength="15.80" lengthAdjust="spacingAndGlyphs" fill="#303030" stroke="#303030" stroke-width="0.14">Vegan</text>
<text x="297.90" y="749.95" font-size="6.05" text-anchor="middle" textLength="18.60" lengthAdjust="spacingAndGlyphs" fill="#303030" stroke="#303030" stroke-width="0.14">teriyaki</text>
<text x="339.43" y="742.75" font-size="6.05" text-anchor="middle" textLength="29.70" lengthAdjust="spacingAndGlyphs" fill="#303030" stroke="#303030" stroke-width="0.14">Whole-food</text>
<text x="339.43" y="749.95" font-size="6.05" text-anchor="middle" textLength="35.00" lengthAdjust="spacingAndGlyphs" fill="#303030" stroke="#303030" stroke-width="0.14">vegan teriyaki</text>
<text transform="translate(202.90,674.00) rotate(-90)" font-size="8.6" text-anchor="middle" textLength="48.6" lengthAdjust="spacingAndGlyphs" fill="#1a1a1a" stroke="#1a1a1a" stroke-width="0.2" xml:space="preserve">Copper  (mg)</text>
</g>
<g>
<line x1="424.70" x2="546.10" y1="733.20" y2="733.20" stroke="#dedede" stroke-width="0.75"/>
<line x1="424.70" x2="546.10" y1="709.58" y2="709.58" stroke="#dedede" stroke-width="0.75"/>
<line x1="424.70" x2="546.10" y1="685.97" y2="685.97" stroke="#dedede" stroke-width="0.75"/>
<line x1="424.70" x2="546.10" y1="662.35" y2="662.35" stroke="#dedede" stroke-width="0.75"/>
<line x1="424.70" x2="546.10" y1="638.73" y2="638.73" stroke="#dedede" stroke-width="0.75"/>
<line x1="424.70" x2="546.10" y1="615.12" y2="615.12" stroke="#dedede" stroke-width="0.75"/>
<line x1="424.70" x2="546.10" y1="591.50" y2="591.50" stroke="#dedede" stroke-width="0.75"/>
<rect x="438.63" y="711.95" width="12.60" height="21.25" fill="#1970ca"/>
<rect x="479.10" y="598.59" width="12.60" height="134.62" fill="#1970ca"/>
<rect x="519.57" y="652.90" width="12.60" height="80.30" fill="#1970ca"/>
<line x1="425.20" x2="544.90" y1="638.73" y2="638.73" stroke="#262626" stroke-width="0.85" stroke-dasharray="3.1 1.45"/>
<line x1="424.70" x2="424.70" y1="591.10" y2="733.60" stroke="#595959" stroke-width="1.2"/>
<line x1="422.70" x2="424.70" y1="733.20" y2="733.20" stroke="#3a3a3a" stroke-width="1.0"/>
<text transform="translate(418.80,735.50) scale(1,1.12)" stroke="#8a8a8a" stroke-width="0.18" font-size="6.2" text-anchor="end" fill="#8a8a8a">0</text>
<line x1="422.40" x2="426.70" y1="709.58" y2="709.58" stroke="#383838" stroke-width="1.1"/>
<text transform="translate(418.80,711.88) scale(1,1.12)" stroke="#8a8a8a" stroke-width="0.18" font-size="6.2" text-anchor="end" fill="#8a8a8a">1</text>
<line x1="422.40" x2="426.70" y1="685.97" y2="685.97" stroke="#383838" stroke-width="1.1"/>
<text transform="translate(418.80,688.27) scale(1,1.12)" stroke="#8a8a8a" stroke-width="0.18" font-size="6.2" text-anchor="end" fill="#8a8a8a">2</text>
<line x1="422.40" x2="426.70" y1="662.35" y2="662.35" stroke="#383838" stroke-width="1.1"/>
<text transform="translate(418.80,664.65) scale(1,1.12)" stroke="#8a8a8a" stroke-width="0.18" font-size="6.2" text-anchor="end" fill="#8a8a8a">3</text>
<line x1="422.40" x2="426.70" y1="638.73" y2="638.73" stroke="#383838" stroke-width="1.1"/>
<text transform="translate(418.80,641.03) scale(1,1.12)" stroke="#8a8a8a" stroke-width="0.18" font-size="6.2" text-anchor="end" fill="#8a8a8a">4</text>
<line x1="422.40" x2="426.70" y1="615.12" y2="615.12" stroke="#383838" stroke-width="1.1"/>
<text transform="translate(418.80,617.42) scale(1,1.12)" stroke="#8a8a8a" stroke-width="0.18" font-size="6.2" text-anchor="end" fill="#8a8a8a">5</text>
<line x1="422.40" x2="426.70" y1="591.50" y2="591.50" stroke="#383838" stroke-width="1.1"/>
<text transform="translate(418.80,593.80) scale(1,1.12)" stroke="#8a8a8a" stroke-width="0.18" font-size="6.2" text-anchor="end" fill="#8a8a8a">6</text>
<text x="444.93" y="743.15" font-size="6.05" text-anchor="middle" textLength="19.90" lengthAdjust="spacingAndGlyphs" fill="#303030" stroke="#303030" stroke-width="0.14">Chicken</text>
<text x="444.93" y="750.35" font-size="6.05" text-anchor="middle" textLength="18.60" lengthAdjust="spacingAndGlyphs" fill="#303030" stroke="#303030" stroke-width="0.14">teriyaki</text>
<text x="485.40" y="743.15" font-size="6.05" text-anchor="middle" textLength="15.80" lengthAdjust="spacingAndGlyphs" fill="#303030" stroke="#303030" stroke-width="0.14">Vegan</text>
<text x="485.40" y="750.35" font-size="6.05" text-anchor="middle" textLength="18.60" lengthAdjust="spacingAndGlyphs" fill="#303030" stroke="#303030" stroke-width="0.14">teriyaki</text>
<text x="525.87" y="743.15" font-size="6.05" text-anchor="middle" textLength="29.70" lengthAdjust="spacingAndGlyphs" fill="#303030" stroke="#303030" stroke-width="0.14">Whole-food</text>
<text x="525.87" y="750.35" font-size="6.05" text-anchor="middle" textLength="35.00" lengthAdjust="spacingAndGlyphs" fill="#303030" stroke="#303030" stroke-width="0.14">vegan teriyaki</text>
<text transform="translate(401.10,667.50) rotate(-90)" font-size="8.4" text-anchor="middle" textLength="35.7" lengthAdjust="spacingAndGlyphs" fill="#1a1a1a" stroke="#1a1a1a" stroke-width="0.35" xml:space="preserve">Iron (mg)</text>
</g>
</svg></body></html>
